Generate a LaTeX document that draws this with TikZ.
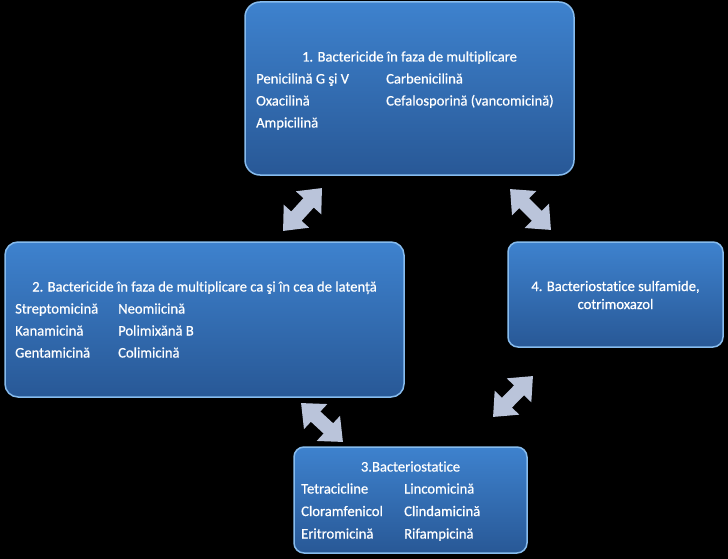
\documentclass[tikz,border=0pt]{standalone}
\usepackage{fontspec}
\setmainfont{Carlito}[Ligatures=NoCommon, FakeBold=0.6]
\usetikzlibrary{arrows.meta}
\definecolor{boxtop}{RGB}{62,130,206}
\definecolor{boxbot}{RGB}{40,88,150}
\definecolor{boxedge}{RGB}{135,188,238}
\definecolor{linkfill}{RGB}{186,196,218}
\tikzset{
  groupbox/.style={draw=boxedge, line width=1.5pt, top color=boxtop, bottom color=boxbot, inner sep=0pt},
  title/.style={text=white, font=\fontsize{14.6}{17}\selectfont, anchor=base, inner sep=0pt},
  drug/.style={text=white, font=\fontsize{14.6}{17}\selectfont, anchor=base west, inner sep=0pt},
  link/.style={line width=14pt, draw=linkfill, >={Triangle[length=20pt,width=33pt]}, <->}
}

\begin{document}
\begin{tikzpicture}[x=1pt, y=-1pt]
        \fill[black] (0,0) rectangle (728,559);
        \useasboundingbox (0,0) rectangle (728,559);
        % boxes
        \node[groupbox, rounded corners=15pt, minimum width=329pt, minimum height=173pt] (G1) at (409.5, 88.5) {};
        \node[groupbox, rounded corners=13pt, minimum width=399pt, minimum height=155pt] (G2) at (204.5, 319.5) {};
        \node[groupbox, rounded corners=10pt, minimum width=233pt, minimum height=106pt] (G3) at (410.5, 500) {};
        \node[groupbox, rounded corners=10pt, minimum width=215pt, minimum height=105pt] (G4) at (615.5, 294.5) {};
        % group 1
        \node[title] (T1) at (409.5, 61.5) {1. Bactericide în faza de multiplicare};
        \node[drug] (D1a) at (256, 83.5) {Penicilină G şi V};
        \node[drug] (D1b) at (256, 105.5) {Oxacilină};
        \node[drug] (D1c) at (256, 127.5) {Ampicilină};
        \node[drug] (D1d) at (386, 83.5) {Carbenicilină};
        \node[drug] (D1e) at (386, 105.5) {Cefalosporină (vancomicină)};
        % group 2
        \node[title] (T2) at (204.5, 291.5) {2. Bactericide în faza de multiplicare ca şi în cea de latență};
        \node[drug] (D2a) at (15, 313.5) {Streptomicină};
        \node[drug] (D2b) at (15, 335.5) {Kanamicină};
        \node[drug] (D2c) at (15, 357.5) {Gentamicină};
        \node[drug] (D2d) at (118, 313.5) {Neomiicină};
        \node[drug] (D2e) at (118, 335.5) {Polimixănă B};
        \node[drug] (D2f) at (118, 357.5) {Colimicină};
        % group 3
        \node[title] (T3) at (410.5, 471.5) {3.Bacteriostatice};
        \node[drug] (D3a) at (301, 493.5) {Tetracicline};
        \node[drug] (D3b) at (301, 516) {Cloramfenicol};
        \node[drug] (D3c) at (301, 538.5) {Eritromicină};
        \node[drug] (D3d) at (404, 493.5) {Lincomicină};
        \node[drug] (D3e) at (404, 516) {Clindamicină};
        \node[drug] (D3f) at (404, 538.5) {Rifampicină};
        % group 4
        \node[title, anchor=center, align=center, font=\fontsize{14.6}{18}\selectfont] (T4) at (615.5, 295) {4. Bacteriostatice sulfamide,\\cotrimoxazol};
        % links
        \coordinate (L12a) at (283, 231);
        \coordinate (L12b) at (322, 188);
        \coordinate (L14a) at (510, 189);
        \coordinate (L14b) at (551, 230);
        \coordinate (L43a) at (533, 376);
        \coordinate (L43b) at (493, 417);
        \coordinate (L23a) at (301, 403);
        \coordinate (L23b) at (343, 442);
        \draw[link] (L12a) -- (L12b);
        \draw[link] (L14a) -- (L14b);
        \draw[link] (L43a) -- (L43b);
        \draw[link] (L23a) -- (L23b);
    \end{tikzpicture}
\end{document}
